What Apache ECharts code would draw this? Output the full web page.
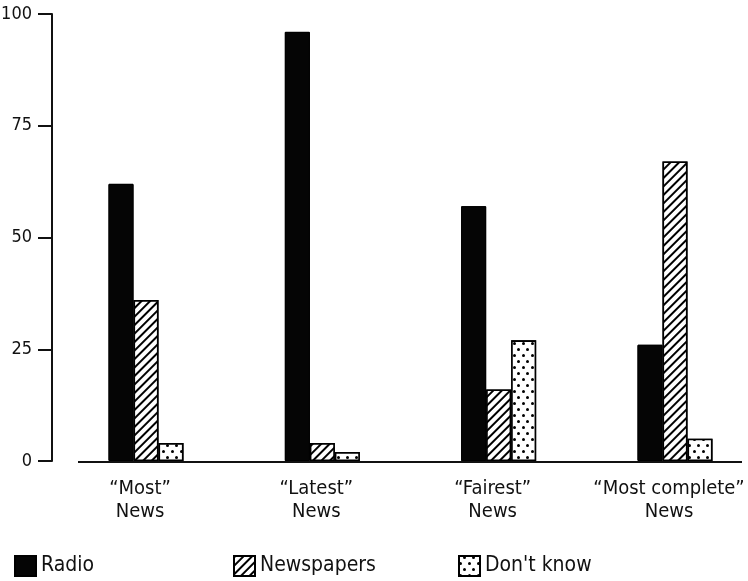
<!DOCTYPE html>
<html><head><meta charset="utf-8">
<script src="https://cdn.jsdelivr.net/npm/echarts@6/dist/echarts.min.js"></script>
<style>html,body{margin:0;padding:0;background:#fff}#c{width:748px;height:581px}</style>
</head><body><div id="c"></div>
<script>
const categories = ['\u201cMost\u201d\nNews', '\u201cLatest\u201d\nNews', '\u201cFairest\u201d\nNews', '\u201cMost complete\u201d\nNews'];
const radio = [62, 96, 57, 26];
const newspapers = [36, 4, 16, 67];
const dontKnow = [4, 2, 27, 5];
const yTicks = [0, 25, 50, 75, 100];

const FONT = '"DejaVu Sans Condensed", "Liberation Sans Narrow", "Noto Sans", sans-serif';
const chart = echarts.init(document.getElementById('c'));
const solid = {symbol: 'rect', color: '#050505', backgroundColor: '#050505', dashArrayX: [1, 0], dashArrayY: [1, 0], symbolSize: 1};
const hatch = {symbol: 'rect', color: '#000', backgroundColor: '#fff', dashArrayX: [1, 0], dashArrayY: [1.8, 3.2], rotation: -Math.PI / 4, symbolSize: 1};
const dots = {symbol: 'circle', color: '#000', backgroundColor: '#fff', dashArrayX: [[2.4, 5.6], [0, 4, 2.4, 1.6]], dashArrayY: [2.4, 3], symbolSize: 1, rotation: 0};

function legendFor(name, left) {
  return {
    data: [{name: name, icon: 'rect'}], left: left, top: 555, padding: 0, itemWidth: 21, itemHeight: 20, itemGap: 6,
    selectedMode: false,
    textStyle: {fontFamily: FONT, fontSize: 21, color: '#111'}
  };
}

chart.setOption({
  animation: false,
  backgroundColor: '#fff',
  aria: {enabled: true, decal: {show: true}},
  legend: [legendFor('Radio', 14), legendFor('Newspapers', 233), legendFor("Don't know", 458)],
  grid: {left: 146, right: 73, top: 14, height: 447, outerBoundsMode: 'none', containLabel: false},
  xAxis: {
    type: 'category', data: categories, boundaryGap: false,
    axisLine: {show: false}, axisTick: {show: false},
    axisLabel: {fontFamily: FONT, fontSize: 20, lineHeight: 23, color: '#111', margin: 16, interval: 0,
      padding: [0, 12, 0, 0]}
  },
  yAxis: {
    type: 'value', min: 0, max: 100, interval: 25, offset: 94,
    splitLine: {show: false},
    axisLine: {show: true, lineStyle: {color: '#111', width: 2}},
    axisTick: {show: true, length: 14, lineStyle: {color: '#111', width: 2}},
    axisLabel: {fontFamily: FONT, fontSize: 18, color: '#111', margin: 20,
      formatter: v => yTicks.includes(v) ? String(v) : ''}
  },
  series: [
    {name: 'Radio', type: 'bar', data: radio, barWidth: 25, barGap: '0%',
      itemStyle: {color: '#050505', borderColor: '#000', borderWidth: 1, decal: solid}},
    {name: 'Newspapers', type: 'bar', data: newspapers, barWidth: 25,
      itemStyle: {color: '#fff', borderColor: '#000', borderWidth: 1.6, decal: hatch}},
    {name: "Don't know", type: 'bar', data: dontKnow, barWidth: 25,
      itemStyle: {color: '#fff', borderColor: '#000', borderWidth: 1.6, decal: dots}}
  ],
  graphic: [{type: 'line', shape: {x1: 78, y1: 462, x2: 742, y2: 462}, style: {stroke: '#111', lineWidth: 2}, z: 10}]
});
</script></body></html>
